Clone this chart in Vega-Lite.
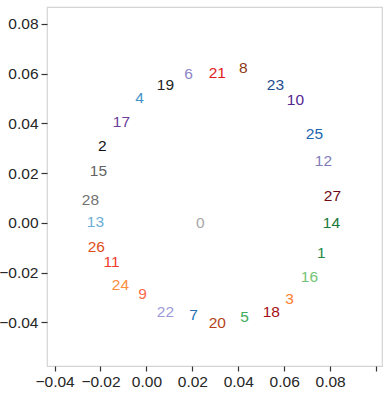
{
  "$schema": "https://vega.github.io/schema/vega-lite/v6.json",
  "width": 335,
  "height": 359,
  "autosize": {"type": "none"},
  "padding": {"left": 47, "top": 7, "right": 10, "bottom": 27},
  "background": "white",
  "config": {
    "view": {"stroke": "#d4d4d4", "strokeWidth": 1.2},
    "font": "Liberation Sans"
  },
  "data": {
    "values": [
      {"label": "0", "x": 0.0235, "y": -0.0002, "color": "#a8a8a8"},
      {"label": "1", "x": 0.0762, "y": -0.0120, "color": "#238b45"},
      {"label": "2", "x": -0.0192, "y": 0.0308, "color": "#111111"},
      {"label": "3", "x": 0.0623, "y": -0.0308, "color": "#fd7d2c"},
      {"label": "4", "x": -0.0030, "y": 0.0500, "color": "#4292c6"},
      {"label": "5", "x": 0.0427, "y": -0.0380, "color": "#41ab5d"},
      {"label": "6", "x": 0.0183, "y": 0.0600, "color": "#8c87c6"},
      {"label": "7", "x": 0.0205, "y": -0.0372, "color": "#2171b5"},
      {"label": "8", "x": 0.0422, "y": 0.0624, "color": "#8c3a14"},
      {"label": "9", "x": -0.0017, "y": -0.0288, "color": "#fb6a4a"},
      {"label": "10", "x": 0.0649, "y": 0.0492, "color": "#54278f"},
      {"label": "11", "x": -0.0152, "y": -0.0156, "color": "#ef3b2c"},
      {"label": "12", "x": 0.0771, "y": 0.0248, "color": "#807dba"},
      {"label": "13", "x": -0.0222, "y": 0.0004, "color": "#6baed6"},
      {"label": "14", "x": 0.0806, "y": 0.0000, "color": "#1b7837"},
      {"label": "15", "x": -0.0209, "y": 0.0208, "color": "#636363"},
      {"label": "16", "x": 0.0710, "y": -0.0220, "color": "#74c476"},
      {"label": "17", "x": -0.0109, "y": 0.0404, "color": "#6a3d9a"},
      {"label": "18", "x": 0.0544, "y": -0.0360, "color": "#a50f15"},
      {"label": "19", "x": 0.0083, "y": 0.0556, "color": "#252525"},
      {"label": "20", "x": 0.0309, "y": -0.0404, "color": "#b4441a"},
      {"label": "21", "x": 0.0309, "y": 0.0604, "color": "#e31a1c"},
      {"label": "22", "x": 0.0083, "y": -0.0360, "color": "#9e9ad8"},
      {"label": "23", "x": 0.0562, "y": 0.0556, "color": "#1f4e8c"},
      {"label": "24", "x": -0.0113, "y": -0.0252, "color": "#fd8d3c"},
      {"label": "25", "x": 0.0732, "y": 0.0356, "color": "#2166b0"},
      {"label": "26", "x": -0.0218, "y": -0.0096, "color": "#e0501a"},
      {"label": "27", "x": 0.0810, "y": 0.0108, "color": "#6b0a14"},
      {"label": "28", "x": -0.0244, "y": 0.0092, "color": "#737373"}
    ]
  },
  "mark": {"type": "text", "fontSize": 15.5, "font": "Liberation Sans", "align": "center", "baseline": "middle"},
  "encoding": {
    "x": {
      "field": "x",
      "type": "quantitative",
      "scale": {"domain": [-0.0433, 0.1026], "nice": false, "zero": false},
      "axis": {
        "title": null,
        "grid": false,
        "domain": false,
        "tickColor": "#333333",
        "tickSize": 5,
        "tickWidth": 1.2,
        "labelFont": "Liberation Sans",
        "labelFontSize": 15.5,
        "labelColor": "#262626",
        "labelPadding": 3,
        "values": [-0.04, -0.02, 0, 0.02, 0.04, 0.06, 0.08, 0.1],
        "format": ".2f",
        "labelExpr": "datum.value > 0.09 ? '' : datum.label",
        "labelFlush": false
      }
    },
    "y": {
      "field": "y",
      "type": "quantitative",
      "scale": {"domain": [-0.0576, 0.0868], "nice": false, "zero": false},
      "axis": {
        "title": null,
        "grid": false,
        "domain": false,
        "tickColor": "#333333",
        "tickSize": 6,
        "tickWidth": 1.2,
        "labelFont": "Liberation Sans",
        "labelFontSize": 15.5,
        "labelColor": "#262626",
        "labelPadding": 3,
        "values": [-0.04, -0.02, 0, 0.02, 0.04, 0.06, 0.08],
        "format": ".2f",
        "labelFlush": false
      }
    },
    "text": {"field": "label"},
    "color": {"field": "color", "type": "nominal", "scale": null}
  }
}
